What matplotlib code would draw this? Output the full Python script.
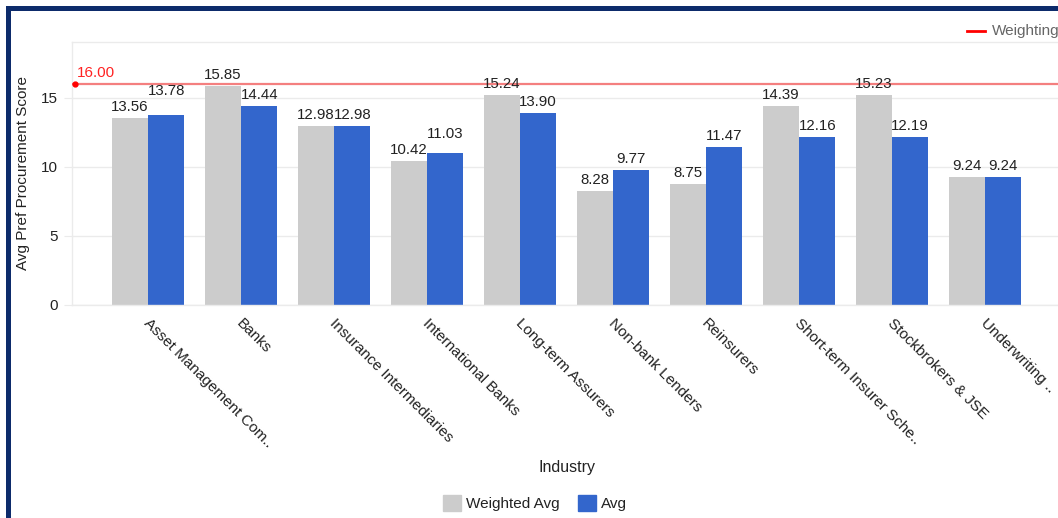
import matplotlib
matplotlib.use("Agg")
import matplotlib.pyplot as plt
from matplotlib.patches import Rectangle, Patch
from matplotlib.lines import Line2D
from matplotlib.transforms import ScaledTranslation
import numpy as np

plt.rcParams['font.family'] = ['Liberation Sans', 'DejaVu Sans']

industries = [
    "Asset Management Com..", "Banks", "Insurance Intermediaries",
    "International Banks", "Long-term Assurers", "Non-bank Lenders",
    "Reinsurers", "Short-term Insurer Sche..", "Stockbrokers & JSE",
    "Underwriting ..",
]
weighted_avg = [13.56, 15.85, 12.98, 10.42, 15.24, 8.28, 8.75, 14.39, 15.23, 9.24]
avg = [13.78, 14.44, 12.98, 11.03, 13.90, 9.77, 11.47, 12.16, 12.19, 9.24]
weighting_line = 16.00
y_ticks = [0, 5, 10, 15]

GREY = "#cccccc"
BLUE = "#3366cc"
GRID = "#ebebeb"
TEXT = "#222222"

W, H = 1058, 518
fig = plt.figure(figsize=(W / 100, H / 100), dpi=100)

# outer navy frame (open to the right and bottom)
fig.patches.append(Rectangle((7.5 / W, -0.2), 1.2, 1 - 7.5 / H + 0.2,
                             transform=fig.transFigure, fill=False,
                             edgecolor="#0d2b6b", lw=3.6, zorder=0))

ax = fig.add_axes([72 / W, 1 - 305 / H, (1061 - 72) / W, (305 - 42) / H])
x = np.arange(len(industries))
bw = 0.392

ax.bar(x - bw / 2, weighted_avg, bw, color=GREY, zorder=2, label="Weighted Avg")
ax.bar(x + bw / 2, avg, bw, color=BLUE, zorder=2, label="Avg")

ax.set_xlim(-0.817, len(industries) - 1 + 0.817)
ax.set_ylim(0, 19.05)
ax.set_yticks(y_ticks)
ax.set_yticklabels([str(t) for t in y_ticks], fontsize=11, color=TEXT)
ax.tick_params(axis="y", length=6, color=GRID, pad=4)
ax.tick_params(axis="x", length=0, pad=8)
ax.grid(axis="y", color=GRID, lw=1, zorder=0)
for s in ("left", "top", "bottom"):
    ax.spines[s].set_color(GRID)
    ax.spines[s].set_linewidth(1)
ax.spines["right"].set_visible(False)

ax.set_xticks(x)
ax.set_xticklabels(industries, rotation=-45, ha="left", va="top",
                   rotation_mode="anchor", fontsize=11, color=TEXT)
shift = ScaledTranslation(3 / 100, 0, fig.dpi_scale_trans)
for lbl in ax.get_xticklabels():
    lbl.set_transform(lbl.get_transform() + shift)

ax.set_ylabel("Avg Pref Procurement Score", fontsize=11, color=TEXT, labelpad=8)
ax.set_xlabel("Industry", fontsize=11.5, color=TEXT, labelpad=7)

# value labels, lifting the taller one when the pair would collide
px_per_unit = (305 - 42) / 19.05
base_off = 11 / px_per_unit
min_gap = 16 / px_per_unit
for i in range(len(industries)):
    yw = weighted_avg[i] + base_off
    ya = avg[i] + base_off
    if weighted_avg[i] != avg[i] and abs(ya - yw) < min_gap:
        if ya > yw:
            ya = yw + min_gap
        else:
            yw = ya + min_gap
    ax.text(x[i] - bw / 2, yw, f"{weighted_avg[i]:.2f}", ha="center", va="center",
            fontsize=10.8, color=TEXT, zorder=4)
    ax.text(x[i] + bw / 2, ya, f"{avg[i]:.2f}", ha="center", va="center",
            fontsize=10.8, color=TEXT, zorder=4)

# reference line
ax.axhline(weighting_line, color="#f47f7f", lw=1.6, zorder=3)
ax.plot([-0.785], [weighting_line], "o", color="#ff0000", ms=3.5, zorder=5,
        clip_on=False)
ax.text(-0.76, weighting_line + 0.3, f"{weighting_line:.2f}", color="#ff2222",
        fontsize=11, ha="left", va="bottom", zorder=5)

# top-right legend for the reference line
fig.add_artist(Line2D([967 / W, 985 / W], [1 - 31 / H, 1 - 31 / H],
                      color="#ff0000", lw=2, transform=fig.transFigure))
fig.text(992 / W, 1 - 31 / H, "Weighting", fontsize=11, color="#666666",
         ha="left", va="center")

handles = [Patch(facecolor=GREY, edgecolor=GREY, label="Weighted Avg"),
           Patch(facecolor=BLUE, edgecolor=BLUE, label="Avg")]
fig.legend(handles=handles, loc="center", bbox_to_anchor=(535 / W, 1 - 503 / H),
           ncol=2, frameon=False, fontsize=11, handlelength=1.2, handleheight=1.3,
           handletextpad=0.3, columnspacing=1.2, labelcolor=TEXT)

fig.savefig("out.png", dpi=100)
